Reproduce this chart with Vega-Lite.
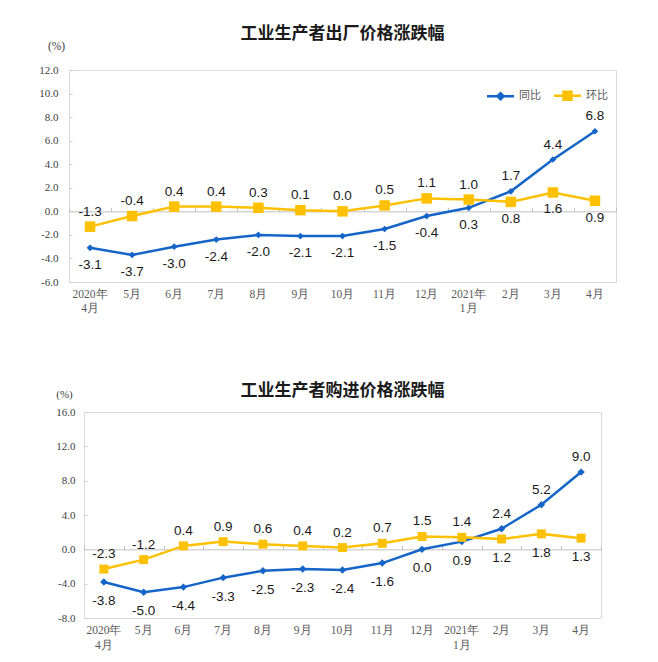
{
  "$schema": "https://vega.github.io/schema/vega-lite/v6.json",
  "padding": {"left": 38, "top": 24, "right": 38, "bottom": 5},
  "bounds": "flush",
  "center": true,
  "spacing": 130,
  "config": {
    "locale": {"number": {"decimal": ".", "thousands": ",", "grouping": [3], "currency": ["$", ""], "minus": "-"}},
    "view": {"stroke": "#d9d9d9", "strokeWidth": 1},
    "axis": {"grid": false},
    "title": {"font": "Noto Sans CJK SC", "fontSize": 17, "fontWeight": "bold", "color": "#1a1a1a", "anchor": "middle"}
  },
  "datasets": {
    "chu": [
      {"month": "2020年|4月", "series": "同比", "value": -3.1},
      {"month": "5月", "series": "同比", "value": -3.7},
      {"month": "6月", "series": "同比", "value": -3.0},
      {"month": "7月", "series": "同比", "value": -2.4},
      {"month": "8月", "series": "同比", "value": -2.0},
      {"month": "9月", "series": "同比", "value": -2.1},
      {"month": "10月", "series": "同比", "value": -2.1},
      {"month": "11月", "series": "同比", "value": -1.5},
      {"month": "12月", "series": "同比", "value": -0.4},
      {"month": "2021年|1月", "series": "同比", "value": 0.3},
      {"month": "2月", "series": "同比", "value": 1.7},
      {"month": "3月", "series": "同比", "value": 4.4},
      {"month": "4月", "series": "同比", "value": 6.8},
      {"month": "2020年|4月", "series": "环比", "value": -1.3},
      {"month": "5月", "series": "环比", "value": -0.4},
      {"month": "6月", "series": "环比", "value": 0.4},
      {"month": "7月", "series": "环比", "value": 0.4},
      {"month": "8月", "series": "环比", "value": 0.3},
      {"month": "9月", "series": "环比", "value": 0.1},
      {"month": "10月", "series": "环比", "value": 0.0},
      {"month": "11月", "series": "环比", "value": 0.5},
      {"month": "12月", "series": "环比", "value": 1.1},
      {"month": "2021年|1月", "series": "环比", "value": 1.0},
      {"month": "2月", "series": "环比", "value": 0.8},
      {"month": "3月", "series": "环比", "value": 1.6},
      {"month": "4月", "series": "环比", "value": 0.9}
    ],
    "gou": [
      {"month": "2020年|4月", "series": "同比", "value": -3.8},
      {"month": "5月", "series": "同比", "value": -5.0},
      {"month": "6月", "series": "同比", "value": -4.4},
      {"month": "7月", "series": "同比", "value": -3.3},
      {"month": "8月", "series": "同比", "value": -2.5},
      {"month": "9月", "series": "同比", "value": -2.3},
      {"month": "10月", "series": "同比", "value": -2.4},
      {"month": "11月", "series": "同比", "value": -1.6},
      {"month": "12月", "series": "同比", "value": 0.0},
      {"month": "2021年|1月", "series": "同比", "value": 0.9},
      {"month": "2月", "series": "同比", "value": 2.4},
      {"month": "3月", "series": "同比", "value": 5.2},
      {"month": "4月", "series": "同比", "value": 9.0},
      {"month": "2020年|4月", "series": "环比", "value": -2.3},
      {"month": "5月", "series": "环比", "value": -1.2},
      {"month": "6月", "series": "环比", "value": 0.4},
      {"month": "7月", "series": "环比", "value": 0.9},
      {"month": "8月", "series": "环比", "value": 0.6},
      {"month": "9月", "series": "环比", "value": 0.4},
      {"month": "10月", "series": "环比", "value": 0.2},
      {"month": "11月", "series": "环比", "value": 0.7},
      {"month": "12月", "series": "环比", "value": 1.5},
      {"month": "2021年|1月", "series": "环比", "value": 1.4},
      {"month": "2月", "series": "环比", "value": 1.2},
      {"month": "3月", "series": "环比", "value": 1.8},
      {"month": "4月", "series": "环比", "value": 1.3}
    ]
  },
  "vconcat": [
    {
      "width": 547,
      "height": 212,
      "data": {"name": "chu"},
      "title": {"text": "工业生产者出厂价格涨跌幅", "offset": -3},
      "encoding": {
        "x": {"field": "month", "type": "ordinal", "bandPosition": 0.5,
          "scale": {"type": "band", "paddingInner": 0, "paddingOuter": 0, "domain": ["2020年|4月", "5月", "6月", "7月", "8月", "9月", "10月", "11月", "12月", "2021年|1月", "2月", "3月", "4月"]},
          "axis": null},
        "y": {"field": "value", "type": "quantitative",
          "scale": {"domain": [-6, 12], "nice": false, "zero": false},
          "axis": {"values": [-6, -4, -2, 0, 2, 4, 6, 8, 10, 12], "format": ".1f", "labelFont": "Liberation Serif", "labelFontSize": 11, "labelColor": "#404040", "labelPadding": 14, "domain": false, "ticks": true, "tickSize": -3, "tickColor": "#d0d0d0",
            "title": "(%)", "titleAngle": 0, "titleX": -13, "titleY": -24, "titleAlign": "center", "titleBaseline": "middle", "titleFont": "Liberation Serif", "titleFontSize": 11.5, "titleFontWeight": "normal", "titleColor": "#404040"}}
      },
      "layer": [
        {
          "mark": {"type": "line", "strokeWidth": 2.5},
          "encoding": {
            "x": {"field": "month", "type": "ordinal", "bandPosition": 0.5,
              "scale": {"type": "band", "paddingInner": 0, "paddingOuter": 0, "domain": ["2020年|4月", "5月", "6月", "7月", "8月", "9月", "10月", "11月", "12月", "2021年|1月", "2月", "3月", "4月"]},
              "axis": {"orient": "bottom", "title": null, "domain": false, "ticks": false, "labelAngle": 0, "labelExpr": "split(datum.label, '|')", "labelFont": "Liberation Serif", "labelFontSize": 11.5, "labelColor": "#595959", "labelPadding": 6, "labelLineHeight": 14, "labelBaseline": "top"}},
            "color": {"field": "series", "type": "nominal",
              "scale": {"domain": ["同比", "环比"], "range": ["#1565C8", "#FFC000"]},
              "legend": {"orient": "none", "legendX": 416, "legendY": 19, "direction": "horizontal", "title": null,
                "labelFont": "Noto Sans CJK SC", "labelFontSize": 11, "labelColor": "#595959",
                "symbolSize": 100, "symbolStrokeWidth": 2.5, "symbolOffset": 9, "labelOffset": 12, "columnPadding": 8,
                "encode": {"symbols": {"update": {
                  "shape": {"signal": "datum.value === '同比' ? 'M-2.7,0H2.7M0,-0.6L0.6,0L0,0.6L-0.6,0Z' : 'M-2.7,0H2.7M-0.8,-0.8H0.8V0.8H-0.8Z'"},
                  "fill": {"signal": "datum.value === '同比' ? '#1565C8' : '#FFC000'"},
                  "stroke": {"signal": "datum.value === '同比' ? '#1565C8' : '#FFC000'"}}}}}}
          }
        },
        {
          "transform": [{"filter": "datum.series === '同比'"}],
          "mark": {"type": "point", "shape": "diamond", "filled": true, "size": 45, "opacity": 1, "color": "#1565C8"},
          "encoding": {
            "x": {"field": "month", "type": "ordinal", "bandPosition": 0.5,
              "scale": {"type": "band", "paddingInner": 0, "paddingOuter": 0, "domain": ["2020年|4月", "5月", "6月", "7月", "8月", "9月", "10月", "11月", "12月", "2021年|1月", "2月", "3月", "4月"]},
              "axis": {"orient": "top", "offset": -141.333, "title": null, "labels": false, "domain": true, "domainColor": "#c0c0c0", "domainWidth": 1, "ticks": true, "tickBand": "extent", "tickSize": 4, "tickColor": "#c0c0c0"}}
          }
        },
        {
          "transform": [{"filter": "datum.series === '环比'"}],
          "mark": {"type": "square", "filled": true, "size": 110, "opacity": 1, "color": "#FFC000"}
        },
        {
          "transform": [
            {"joinaggregate": [{"op": "max", "field": "value", "as": "mx"}], "groupby": ["month"]},
            {"filter": "datum.value >= datum.mx"}
          ],
          "mark": {"type": "text", "dy": -15, "font": "Liberation Sans", "fontSize": 13.5, "color": "#1a1a1a", "baseline": "middle"},
          "encoding": {"text": {"field": "value", "type": "quantitative", "format": ".1f"}}
        },
        {
          "transform": [
            {"joinaggregate": [{"op": "max", "field": "value", "as": "mx"}], "groupby": ["month"]},
            {"filter": "datum.value < datum.mx"}
          ],
          "mark": {"type": "text", "dy": 17, "font": "Liberation Sans", "fontSize": 13.5, "color": "#1a1a1a", "baseline": "middle"},
          "encoding": {"text": {"field": "value", "type": "quantitative", "format": ".1f"}}
        }
      ],
      "resolve": {"axis": {"x": "independent"}}
    },
    {
      "width": 517,
      "height": 206,
      "data": {"name": "gou"},
      "title": {"text": "工业生产者购进价格涨跌幅", "offset": -12},
      "encoding": {
        "x": {"field": "month", "type": "ordinal", "bandPosition": 0.5,
          "scale": {"type": "band", "paddingInner": 0, "paddingOuter": 0, "domain": ["2020年|4月", "5月", "6月", "7月", "8月", "9月", "10月", "11月", "12月", "2021年|1月", "2月", "3月", "4月"]},
          "axis": null},
        "y": {"field": "value", "type": "quantitative",
          "scale": {"domain": [-8, 16], "nice": false, "zero": false},
          "axis": {"values": [-8, -4, 0, 4, 8, 12, 16], "format": ".1f", "labelFont": "Liberation Serif", "labelFontSize": 11, "labelColor": "#404040", "labelPadding": 12, "domain": false, "ticks": true, "tickSize": -3, "tickColor": "#d0d0d0",
            "title": "(%)", "titleAngle": 0, "titleX": -20, "titleY": -18, "titleAlign": "center", "titleBaseline": "middle", "titleFont": "Liberation Serif", "titleFontSize": 11, "titleFontWeight": "normal", "titleColor": "#404040"}}
      },
      "layer": [
        {
          "mark": {"type": "line", "strokeWidth": 2.5},
          "encoding": {
            "x": {"field": "month", "type": "ordinal", "bandPosition": 0.5,
              "scale": {"type": "band", "paddingInner": 0, "paddingOuter": 0, "domain": ["2020年|4月", "5月", "6月", "7月", "8月", "9月", "10月", "11月", "12月", "2021年|1月", "2月", "3月", "4月"]},
              "axis": {"orient": "bottom", "title": null, "domain": false, "ticks": false, "labelAngle": 0, "labelExpr": "split(datum.label, '|')", "labelFont": "Liberation Serif", "labelFontSize": 11.5, "labelColor": "#595959", "labelPadding": 6, "labelLineHeight": 15, "labelBaseline": "top"}},
            "color": {"field": "series", "type": "nominal",
              "scale": {"domain": ["同比", "环比"], "range": ["#1565C8", "#FFC000"]},
              "legend": {"orient": "none", "legendX": 380, "legendY": 15, "direction": "horizontal", "title": null,
                "labelFont": "Noto Sans CJK SC", "labelFontSize": 11, "labelColor": "#595959",
                "symbolSize": 100, "symbolStrokeWidth": 2.5, "symbolOffset": 9, "labelOffset": 12, "columnPadding": 8,
                "encode": {"symbols": {"update": {
                  "shape": {"signal": "datum.value === '同比' ? 'M-2.7,0H2.7M0,-0.6L0.6,0L0,0.6L-0.6,0Z' : 'M-2.7,0H2.7M-0.8,-0.8H0.8V0.8H-0.8Z'"},
                  "fill": {"signal": "datum.value === '同比' ? '#1565C8' : '#FFC000'"},
                  "stroke": {"signal": "datum.value === '同比' ? '#1565C8' : '#FFC000'"}}}}}}
          }
        },
        {
          "transform": [{"filter": "datum.series === '同比'"}],
          "mark": {"type": "point", "shape": "diamond", "filled": true, "size": 55, "opacity": 1, "color": "#1565C8"},
          "encoding": {
            "x": {"field": "month", "type": "ordinal", "bandPosition": 0.5,
              "scale": {"type": "band", "paddingInner": 0, "paddingOuter": 0, "domain": ["2020年|4月", "5月", "6月", "7月", "8月", "9月", "10月", "11月", "12月", "2021年|1月", "2月", "3月", "4月"]},
              "axis": {"orient": "top", "offset": -137.333, "title": null, "labels": false, "domain": true, "domainColor": "#c0c0c0", "domainWidth": 1, "ticks": true, "tickBand": "extent", "tickSize": 4, "tickColor": "#c0c0c0"}}
          }
        },
        {
          "transform": [{"filter": "datum.series === '环比'"}],
          "mark": {"type": "square", "filled": true, "size": 80, "opacity": 1, "color": "#FFC000"}
        },
        {
          "transform": [
            {"joinaggregate": [{"op": "max", "field": "value", "as": "mx"}], "groupby": ["month"]},
            {"filter": "datum.value >= datum.mx"}
          ],
          "mark": {"type": "text", "dy": -15, "font": "Liberation Sans", "fontSize": 13.5, "color": "#1a1a1a", "baseline": "middle"},
          "encoding": {"text": {"field": "value", "type": "quantitative", "format": ".1f"}}
        },
        {
          "transform": [
            {"joinaggregate": [{"op": "max", "field": "value", "as": "mx"}], "groupby": ["month"]},
            {"filter": "datum.value < datum.mx"}
          ],
          "mark": {"type": "text", "dy": 19, "font": "Liberation Sans", "fontSize": 13.5, "color": "#1a1a1a", "baseline": "middle"},
          "encoding": {"text": {"field": "value", "type": "quantitative", "format": ".1f"}}
        }
      ],
      "resolve": {"axis": {"x": "independent"}}
    }
  ]
}
